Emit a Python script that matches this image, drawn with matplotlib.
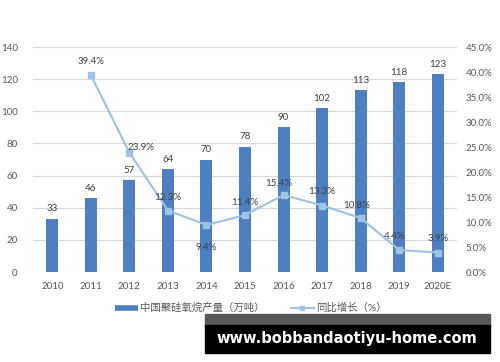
import numpy as np
import matplotlib.pyplot as plt
from matplotlib.lines import Line2D
from matplotlib.patches import Rectangle

plt.rcParams['font.family'] = ['Lato', 'Noto Sans CJK SC', 'DejaVu Sans']

# data
years = ['2010', '2011', '2012', '2013', '2014', '2015', '2016', '2017', '2018', '2019', '2020E']
output = [33, 46, 57, 64, 70, 78, 90, 102, 113, 118, 123]  # 万吨
growth = [np.nan, 39.4, 23.9, 12.3, 9.4, 11.4, 15.4, 13.3, 10.8, 4.4, 3.9]  # %

bar_color = '#4E7FC0'
line_color = '#9DC3E6'
txt_color = '#595959'

fig = plt.figure(figsize=(5, 3.62), dpi=100)
ax = fig.add_axes([0.066, 0.2486, 0.848, 0.6215])
x = np.arange(len(years))

ax.bar(x, output, width=0.31, color=bar_color, zorder=2)
for xi, v in zip(x, output):
    ax.annotate(str(v), (xi, v), xytext=(0, 10), textcoords='offset pixels',
                ha='center', va='center', fontsize=7, color='#404040')

ax.set_ylim(0, 140)
ax.set_xlim(-0.5, len(years) - 0.5)
ax.set_yticks(range(0, 141, 20))
ax.set_xticks(x)
ax.set_xticklabels(years)
ax.grid(axis='y', color='#D9D9D9', linewidth=0.8, zorder=0)
ax.set_axisbelow(True)
for s in ax.spines.values():
    s.set_visible(False)
ax.tick_params(axis='both', length=0, labelsize=7, colors=txt_color)
ax.tick_params(axis='y', pad=11)
ax.tick_params(axis='x', pad=7)

ax2 = ax.twinx()
ax2.set_ylim(0, 45)
ax2.set_yticks(np.arange(0, 46, 5))
ax2.set_yticklabels(['%.1f%%' % t for t in np.arange(0, 46, 5)])
for s in ax2.spines.values():
    s.set_visible(False)
ax2.tick_params(axis='y', length=0, labelsize=7, colors=txt_color, pad=6)
ax2.plot(x, growth, color=line_color, linewidth=1.5, marker='s', markersize=4, zorder=3)

# label offsets (pixels) for growth values
offs = [None, (0, 14), (12, 5), (0, 13), (0, -22), (0, 13), (-5, 12), (0, 14), (-4, 13), (-5, 14), (0, 14)]
for xi, g, o in zip(x, growth, offs):
    if o is None:
        continue
    ax2.annotate('%.1f%%' % g, (xi, g), xytext=o, textcoords='offset pixels',
                 ha='center', va='center', fontsize=7, color='#404040')

handles = [Line2D([], [], color=bar_color, linewidth=4, solid_capstyle='butt'),
           Line2D([], [], color=line_color, linewidth=1.5, marker='s', markersize=3)]
fig.legend(handles, ['中国聚硅氧烷产量（万吨）', '同比增长（%）'], loc='center',
           bbox_to_anchor=(0.502, 0.149), ncol=2, frameon=False, fontsize=7.5,
           labelcolor=txt_color, handlelength=2.2, handletextpad=0.2, columnspacing=2.5)

# watermark banner
fig.patches.append(Rectangle((0.41, 1 - 325 / 362), 0.57, 11 / 362, transform=fig.transFigure,
                             color='#595959', zorder=5))
fig.patches.append(Rectangle((0.41, 1 - 353 / 362), 0.57, 28 / 362, transform=fig.transFigure,
                             color='black', zorder=5))
fig.text(0.694, 1 - 339 / 362, 'www.bobbandaotiyu-home.com', color='white', fontsize=10.5,
         fontweight='bold', family='DejaVu Sans', ha='center', va='center', zorder=6)

fig.savefig('out.png', dpi=100)
